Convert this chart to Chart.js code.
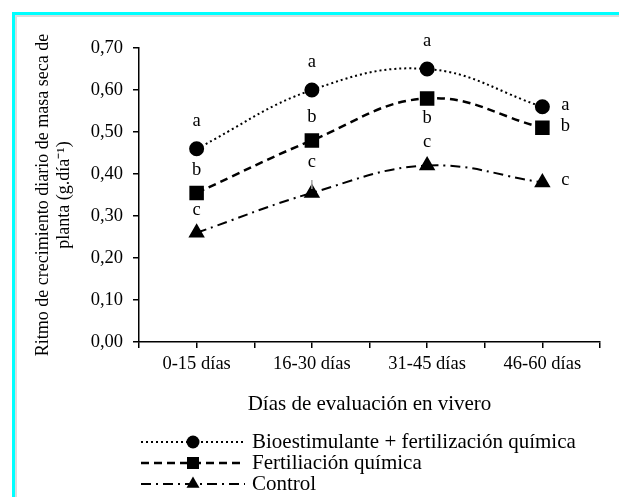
<!DOCTYPE html>
<html>
<head>
<meta charset="utf-8">
<script src="https://cdn.jsdelivr.net/npm/chart.js@4.4.0/dist/chart.umd.min.js"></script>
<style>
  body { margin: 0; background: #fff; }
  #wrap { width: 619px; height: 497px; }
</style>
</head>
<body>
<div id="wrap"><canvas id="myChart" width="619" height="497"></canvas></div>
<script>
// datos
const categorias = ['0-15 días', '16-30 días', '31-45 días', '46-60 días'];
const bioValores = [0.46, 0.60, 0.65, 0.56];
const fertValores = [0.355, 0.48, 0.58, 0.51];
const controlValores = [0.26, 0.355, 0.42, 0.38];
const bioLetras = ['a', 'a', 'a', 'a'];
const fertLetras = ['b', 'b', 'b', 'b'];
const controlLetras = ['c', 'c', 'c', 'c'];
const bioPos = ['top', 'top', 'top', 'right'];
const fertPos = ['top', 'top', 'bottom', 'right'];
const controlPos = ['top', 'top', 'top', 'right'];
const controlGuia = [false, true, false, false];

const fuente = "'Liberation Serif', 'Times New Roman', serif";

function puntos(valores) {
    return valores.map((v, i) => ({ x: i * 2 + 1, y: v }));
}

function dibujarMarca(ctx, estilo, r, x, y) {
    ctx.beginPath();
    if (estilo === 'circle') {
        ctx.arc(x, y, r, 0, Math.PI * 2);
    } else if (estilo === 'rect') {
        const s = Math.SQRT1_2 * r;
        ctx.rect(x - s, y - s, 2 * s, 2 * s);
    } else {
        ctx.moveTo(x, y - r);
        ctx.lineTo(x + r * 0.866, y + r * 0.5);
        ctx.lineTo(x - r * 0.866, y + r * 0.5);
        ctx.closePath();
    }
    ctx.fill();
}

const marcoPlugin = {
    id: 'marco',
    beforeDraw(chart) {
        const ctx = chart.ctx;
        ctx.save();
        ctx.fillStyle = '#fff';
        ctx.fillRect(0, 0, chart.width, chart.height);
        ctx.fillStyle = '#dcdcdc';
        ctx.fillRect(15, 15, chart.width - 15, 2);
        ctx.fillRect(15, 15, 2, chart.height - 15);
        ctx.fillStyle = '#00ffff';
        ctx.fillRect(12, 12, chart.width - 12, 3);
        ctx.fillRect(12, 12, 3, chart.height - 12);
        ctx.restore();
    }
};

const letrasPlugin = {
    id: 'letras',
    afterDatasetsDraw(chart) {
        const ctx = chart.ctx;
        ctx.save();
        ctx.font = '18.5px ' + fuente;
        ctx.fillStyle = '#000';
        ctx.textAlign = 'center';
        ctx.textBaseline = 'middle';
        chart.data.datasets.forEach((ds, di) => {
            const meta = chart.getDatasetMeta(di);
            meta.data.forEach((pt, i) => {
                let x = pt.x, y = pt.y;
                const pos = ds.letraPos[i];
                if (pos === 'top') y -= ds.letraDist;
                else if (pos === 'bottom') y += 22;
                else x += 23;
                if (ds.guia && ds.guia[i]) {
                    ctx.strokeStyle = '#a0a0a0';
                    ctx.lineWidth = 1.5;
                    ctx.beginPath();
                    ctx.moveTo(pt.x, y + 8);
                    ctx.lineTo(pt.x, pt.y - 4);
                    ctx.stroke();
                    y -= 8;
                }
                ctx.fillText(ds.letras[i], x, y - 2);
            });
        });
        ctx.restore();
    }
};

const leyendaPlugin = {
    id: 'leyenda',
    afterDraw(chart) {
        const ctx = chart.ctx;
        ctx.save();
        chart.data.datasets.forEach((ds, di) => {
            const y = 442 + di * 21;
            ctx.strokeStyle = '#000';
            ctx.lineWidth = ds.borderWidth;
            ctx.setLineDash(ds.borderDash);
            ctx.beginPath();
            ctx.moveTo(141, y);
            ctx.lineTo(245, y);
            ctx.stroke();
            ctx.setLineDash([]);
            ctx.fillStyle = '#000';
            dibujarMarca(ctx, ds.pointStyle, ds.pointRadius, 193, y);
            ctx.font = '21px ' + fuente;
            ctx.textAlign = 'left';
            ctx.textBaseline = 'middle';
            ctx.fillText(ds.label, 252, y);
        });
        ctx.restore();
    }
};

const ctx = document.getElementById('myChart').getContext('2d');
const myChart = new Chart(ctx, {
    type: 'line',
    data: {
        datasets: [{
            label: 'Bioestimulante + fertilización química',
            data: puntos(bioValores),
            letras: bioLetras,
            letraPos: bioPos,
            letraDist: 26,
            borderColor: '#000',
            backgroundColor: '#000',
            borderWidth: 2,
            borderDash: [2, 3],
            pointStyle: 'circle',
            pointRadius: 6.5,
            tension: 0.4
        }, {
            label: 'Fertiliación química',
            data: puntos(fertValores),
            letras: fertLetras,
            letraPos: fertPos,
            letraDist: 21,
            borderColor: '#000',
            backgroundColor: '#000',
            borderWidth: 2.5,
            borderDash: [8, 5],
            pointStyle: 'rect',
            pointRadius: 8.5,
            tension: 0.4
        }, {
            label: 'Control',
            data: puntos(controlValores),
            letras: controlLetras,
            letraPos: controlPos,
            letraDist: 21,
            guia: controlGuia,
            borderColor: '#000',
            backgroundColor: '#000',
            borderWidth: 2,
            borderDash: [10, 5, 2, 5],
            pointStyle: 'triangle',
            pointRadius: 7.5,
            tension: 0.4
        }]
    },
    options: {
        responsive: false,
        animation: false,
        devicePixelRatio: 1,
        layout: {
            padding: { left: 20, top: 48, right: 19, bottom: 80 }
        },
        plugins: {
            legend: { display: false },
            tooltip: { enabled: false }
        },
        scales: {
            x: {
                type: 'linear',
                min: 0,
                max: 8,
                afterFit: function (scale) { scale.height = 75; },
                ticks: {
                    stepSize: 1,
                    autoSkip: false,
                    maxRotation: 0,
                    padding: 5,
                    color: '#000',
                    font: { family: fuente, size: 18.5 },
                    callback: function (v) {
                        return v % 2 === 1 ? categorias[(v - 1) / 2] : '';
                    }
                },
                grid: {
                    drawOnChartArea: false,
                    color: '#000',
                    lineWidth: 1.5,
                    tickLength: 6
                },
                border: { color: '#000', width: 1.5 },
                title: {
                    display: true,
                    text: 'Días de evaluación en vivero',
                    color: '#000',
                    font: { family: fuente, size: 21 },
                    padding: 0
                }
            },
            y: {
                min: 0,
                max: 0.7,
                afterFit: function (scale) { scale.width = 119; },
                ticks: {
                    stepSize: 0.1,
                    padding: 10,
                    color: '#000',
                    font: { family: fuente, size: 18.5 },
                    callback: function (v) {
                        return v.toFixed(2).replace('.', ',');
                    }
                },
                grid: {
                    drawOnChartArea: false,
                    color: '#000',
                    lineWidth: 1.5,
                    tickLength: 6
                },
                border: { color: '#000', width: 1.5 },
                title: {
                    display: true,
                    text: ['Ritmo de crecimiento diario de masa seca de', 'planta (g.día⁻¹)'],
                    color: '#000',
                    font: { family: fuente, size: 18, lineHeight: 1.17 },
                    padding: { top: 13, bottom: 0 }
                }
            }
        }
    },
    plugins: [marcoPlugin, letrasPlugin, leyendaPlugin]
});
</script>
</body>
</html>
